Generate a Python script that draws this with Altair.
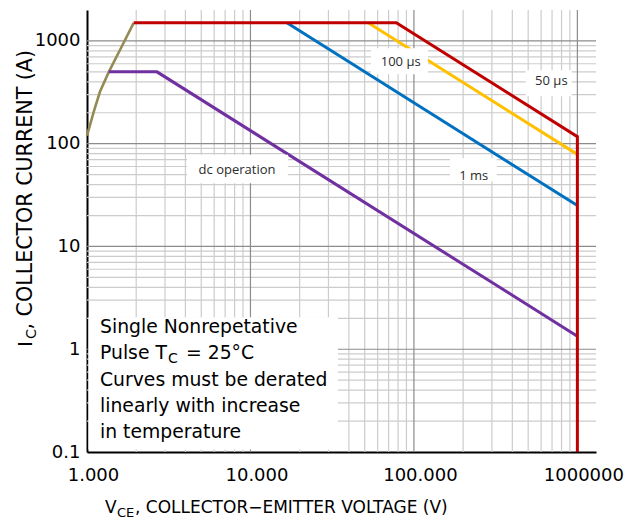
import altair as alt
import pandas as pd

# ---------------- curve breakpoints: V_CE (V) and I_C (A) ----------------
thermal_v = [1.0, 1.1, 1.2, 1.36, 1.6, 1.93]
thermal_i = [120, 205, 320, 500, 830, 1500]

pulse50_v = [1.93, 78, 1000, 1000]
pulse50_i = [1500, 1500, 117, 0.1]

pulse100_v = [52.5, 1000]
pulse100_i = [1500, 78.75]

pulse1ms_v = [16.7, 1000]
pulse1ms_i = [1500, 25]

dc_v = [1.36, 2.68, 1000]
dc_i = [500, 500, 1.34]

# ---------------- axis ticks ----------------
x_ticks = [1, 10, 100, 1000]
x_tick_labels = ["1.000", "10.000", "100.000", "1000000"]
y_ticks = [0.1, 1, 10, 100, 1000]
y_tick_labels = ["0.1", "1", "10", "100", "1000"]

# ---------------- curve labels (centre and backing box, data units) ----------------
label_text = ["dc operation", "100 µs", "50 µs", "1 ms"]
label_v = [8.28, 83, 693, 232]
label_i = [55, 621, 405, 49]
box_v0 = [4.1, 54.6, 483, 166]
box_v1 = [17.0, 121.7, 923, 321]
box_i0 = [41.2, 474, 290, 43]
box_i1 = [78.0, 849, 519, 72]

# note box in the lower-left corner (data units)
note_v = [1.02, 34.3]
note_i = [0.106, 2.05]

PLOT_W, PLOT_H = 509, 442
FONT = "DejaVu Sans"


def label_expr(values, labels):
    expr = "''"
    for v, lab in reversed(list(zip(values, labels))):
        expr = f"datum.value == {v} ? '{lab}' : ({expr})"
    return expr


xscale = alt.Scale(type="log", domain=[1, 1300], nice=False)
yscale = alt.Scale(type="log", domain=[0.1, 2000], nice=False)

x_axis = alt.Axis(
    values=x_ticks, labelExpr=label_expr(x_ticks, x_tick_labels), title=None,
    grid=False, ticks=False, tickSize=0, domainColor="black", domainWidth=2,
    labelFont=FONT, labelFontSize=18, labelColor="black", labelPadding=14,
    labelFlush=False, labelOverlap=False, labelOffset=6,
)
y_axis = alt.Axis(
    values=y_ticks, labelExpr=label_expr(y_ticks, y_tick_labels), title=None,
    grid=False, ticks=False, tickSize=0, domainColor="black", domainWidth=2,
    labelFont=FONT, labelFontSize=18, labelColor="black", labelPadding=7,
    labelFlush=False, labelOverlap=False,
)


def X(field="v"):
    return alt.X(f"{field}:Q", scale=xscale, axis=x_axis)


def Y(field="i"):
    return alt.Y(f"{field}:Q", scale=yscale, axis=y_axis)


# ---------------- grid (1-2-…-9 per decade) ----------------
vgrid = [m * d for d in (1, 10, 100) for m in range(1, 10)][1:] + [1000]
hgrid = [round(m * d, 3) for d in (0.1, 1, 10, 100) for m in range(1, 10)][1:] + [1000]

vg = pd.DataFrame({"v": vgrid})
vg["major"] = vg["v"].isin(x_ticks)
hg = pd.DataFrame({"i": hgrid})
hg["major"] = hg["i"].isin(y_ticks)

MINOR, MAJOR = "#cccccc", "#8c8c8c"
grid_minor_v = alt.Chart(vg[~vg.major]).mark_rule(color=MINOR, strokeWidth=1.2).encode(x=X())
grid_minor_h = alt.Chart(hg[~hg.major]).mark_rule(color=MINOR, strokeWidth=1.2).encode(y=Y())
grid_major_v = alt.Chart(vg[vg.major]).mark_rule(color=MAJOR, strokeWidth=1.2).encode(x=X())
grid_major_h = alt.Chart(hg[hg.major]).mark_rule(color=MAJOR, strokeWidth=1.2).encode(y=Y())


# ---------------- curves ----------------
def curve(vs, cs, color, width=3):
    df = pd.DataFrame({"v": vs, "i": cs, "k": range(len(vs))})
    return alt.Chart(df).mark_line(color=color, strokeWidth=width).encode(
        x=X(), y=Y(), order="k:Q"
    )


curves = [
    curve(thermal_v, thermal_i, "#948A54", 2.6),
    curve(pulse1ms_v, pulse1ms_i, "#0070C0"),
    curve(pulse100_v, pulse100_i, "#FFC000"),
    curve(dc_v, dc_i, "#7030A0"),
    curve(pulse50_v, pulse50_i, "#C00000"),
]

# ---------------- curve labels ----------------
lab = pd.DataFrame({
    "t": label_text, "v": label_v, "i": label_i,
    "v0": box_v0, "v1": box_v1, "i0": box_i0, "i1": box_i1,
})
label_boxes = alt.Chart(lab).mark_rect(color="white").encode(
    x=X("v0"), x2="v1:Q", y=Y("i0"), y2="i1:Q"
)
label_texts = alt.Chart(lab).mark_text(
    font="Open Sans", fontSize=13, color="#2b2b2b", baseline="middle", align="center"
).encode(x=X(), y=Y(), text="t:N")

note_box = alt.Chart(
    pd.DataFrame({"v0": [note_v[0]], "v1": [note_v[1]], "i0": [note_i[0]], "i1": [note_i[1]]})
).mark_rect(color="white").encode(x=X("v0"), x2="v1:Q", y=Y("i0"), y2="i1:Q")


# ---------------- free text pieces (pixel positions inside the view) ----------------
def piece(text, px, py, size, angle=0):
    return alt.Chart(pd.DataFrame({"t": [text]})).mark_text(
        align="left", baseline="alphabetic", font=FONT, fontSize=size,
        angle=angle, color="black"
    ).encode(x=alt.value(px), y=alt.value(py), text="t:N")


note_size = 18.8
note = [
    piece("Single Nonrepetative", 13, 323, note_size),
    piece("Pulse T", 13, 349, note_size),
    piece("C", 81, 353, 14),
    piece("= 25°C", 99, 349, note_size),
    piece("Curves must be derated", 13, 375.5, note_size),
    piece("linearly with increase", 13, 402, note_size),
    piece("in temperature", 13, 428, note_size),
]

x_title = [
    piece("V", 18, 503, 17),
    piece("CE", 30, 507, 13),
    piece(", COLLECTOR\u2212EMITTER VOLTAGE (V)", 48, 503, 17),
]

y_title = [
    piece("I", -55, 337, 20, 270),
    piece("C", -51, 329, 14.5, 270),
    piece(", COLLECTOR CURRENT (A)", -55, 319.5, 20.6, 270),
]

chart = alt.layer(
    grid_minor_v, grid_minor_h, grid_major_v, grid_major_h,
    *curves,
    label_boxes, label_texts,
    note_box, *note,
    *x_title, *y_title,
).properties(
    width=PLOT_W, height=PLOT_H,
    autosize=alt.AutoSizeParams(type="none"),
    padding={"left": 87, "top": 10, "right": 631 - 87 - PLOT_W, "bottom": 525 - 10 - PLOT_H},
    background="white",
).configure_view(stroke=None)

chart.save("out.html", embed_options={"renderer": "svg", "actions": False})
